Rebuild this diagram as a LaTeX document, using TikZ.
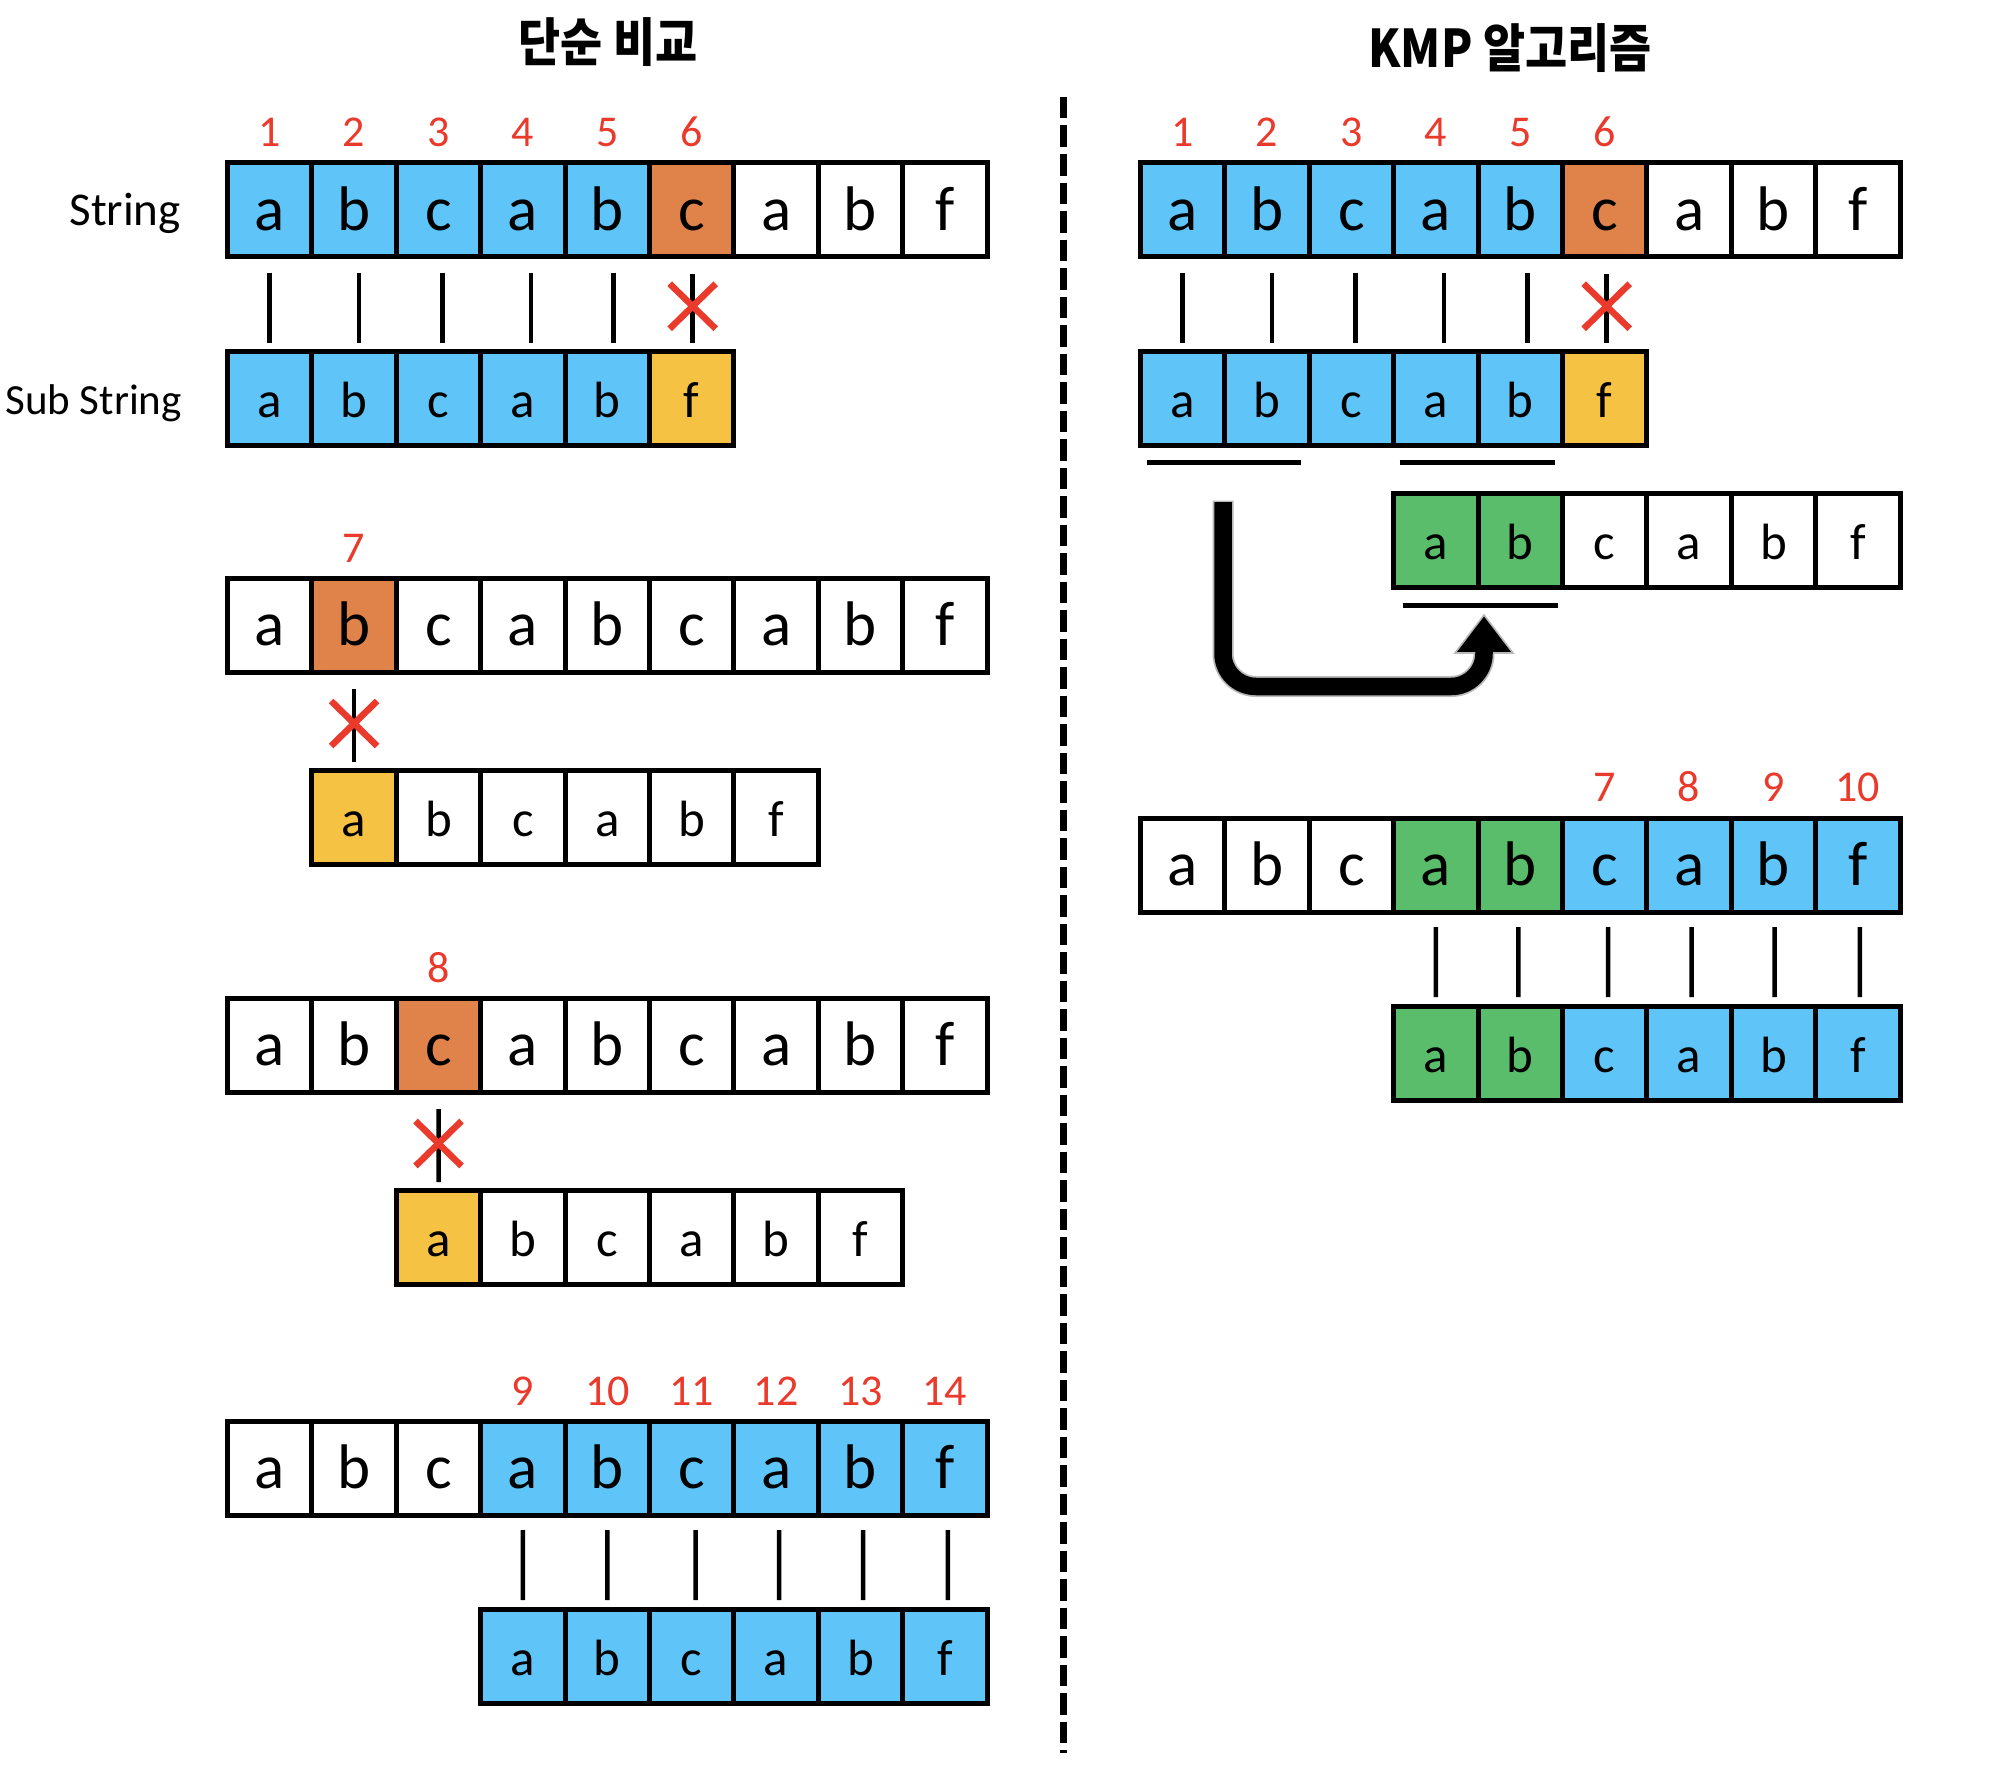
\documentclass[tikz,border=0pt]{standalone}
\usepackage{fontspec}
\setmainfont{Carlito}
\newfontfamily\krfont{Noto Sans CJK KR}
\usetikzlibrary{calc}
\definecolor{cblue}{HTML}{5FC4F8}
\definecolor{corange}{HTML}{E0834A}
\definecolor{cyellow}{HTML}{F5C243}
\definecolor{cgreen}{HTML}{5ABD6B}
\definecolor{cred}{HTML}{EA3A2B}
\tikzset{
  cellbox/.style={draw, line width=5pt, minimum width=84.4pt, minimum height=94pt,
    inner sep=0pt, outer sep=0pt, anchor=north west, text depth=0pt},
  bigcell/.style={cellbox, font=\fontsize{63}{63}\selectfont, text height=41pt},
  smallcell/.style={cellbox, font=\fontsize{51}{51}\selectfont, text height=38pt},
  numlbl/.style={anchor=base, text=cred, inner sep=0pt, font=\fontsize{44}{44}\selectfont},
  rowlbl/.style={anchor=base east, inner sep=0pt, font=\fontsize{47}{47}\selectfont},
  titlelbl/.style={inner sep=0pt, font=\krfont\bfseries\fontsize{52}{52}\selectfont},
  matchline/.style={line width=4.5pt},
  xstroke/.style={line width=6.5pt, draw=cred},
  uline/.style={line width=5pt},
}
\newcommand\cellrow[5]{%
  \foreach \ltr/\clr [count=\i from 0] in {#5} {
    \node[#4, fill=\clr] (#1-\i) at ({#2+\i*84.4},#3) {\ltr};
  }%
}
\newcommand\crossmatch[3]{%
  \draw[matchline] ($(#1.south)+(#3,17)$) coordinate (ca) -- ($(#2.north)+(#3,-8)$) coordinate (cb);
  \coordinate (cm) at ($(ca)!0.5!(cb)+(0,-2)$);
  \draw[xstroke] ($(cm)+(-23,-22.5)$) -- ($(cm)+(23,22.5)$);
  \draw[xstroke] ($(cm)+(-23,22.5)$) -- ($(cm)+(23,-22.5)$);
}
\begin{document}
\begin{tikzpicture}[x=1pt, y=-1pt]
\useasboundingbox[fill=white] (0,0) rectangle (2002,1766);

% titles
\node[titlelbl] (t1) at (608,42) {\scalebox{0.88}[1]{단순 비교}};
\node[titlelbl] (t2) at (1510,48) {\scalebox{0.88}[1]{KMP 알고리즘}};

% divider
\draw[line width=7pt, dash pattern=on 21.5pt off 7pt] (1063.5,97) -- (1063.5,1753);

% ---------------- left ----------------
\node[rowlbl] (lblS) at (181,225) {String};
\node[rowlbl, font=\fontsize{43}{43}\selectfont] (lblSS) at (182,414) {Sub String};

\cellrow{L1}{227.5}{162.5}{bigcell}{a/cblue,b/cblue,c/cblue,a/cblue,b/cblue,c/corange,a/white,b/white,f/white}
\cellrow{LS1}{227.5}{351}{smallcell}{a/cblue,b/cblue,c/cblue,a/cblue,b/cblue,f/cyellow}
\foreach \i [evaluate=\i as \n using int(\i+1)] in {0,...,5}
  \node[numlbl] (nL1-\i) at ($(L1-\i.north)+(0,-16)$) {\n};
\foreach \i/\dx in {0/0,1/5,2/4,3/8,4/6}
  \draw[matchline] ($(L1-\i.south)+(\dx,16)$) -- ($(LS1-\i.north)+(\dx,-8)$);
\crossmatch{L1-5}{LS1-5}{1}

\cellrow{L2}{227.5}{578}{bigcell}{a/white,b/corange,c/white,a/white,b/white,c/white,a/white,b/white,f/white}
\cellrow{LS2}{311.9}{770}{smallcell}{a/cyellow,b/white,c/white,a/white,b/white,f/white}
\node[numlbl] (nL2) at ($(L2-1.north)+(0,-16)$) {7};
\crossmatch{L2-1}{LS2-0}{0}

\cellrow{L3}{227.5}{998}{bigcell}{a/white,b/white,c/corange,a/white,b/white,c/white,a/white,b/white,f/white}
\cellrow{LS3}{396.3}{1190}{smallcell}{a/cyellow,b/white,c/white,a/white,b/white,f/white}
\node[numlbl] (nL3) at ($(L3-2.north)+(0,-16)$) {8};
\crossmatch{L3-2}{LS3-0}{0}

\cellrow{L4}{227.5}{1421}{bigcell}{a/white,b/white,c/white,a/cblue,b/cblue,c/cblue,a/cblue,b/cblue,f/cblue}
\cellrow{LS4}{480.7}{1609}{smallcell}{a/cblue,b/cblue,c/cblue,a/cblue,b/cblue,f/cblue}
\foreach \i/\n in {3/9,4/10,5/11,6/12,7/13,8/14}
  \node[numlbl] (nL4-\i) at ($(L4-\i.north)+(0,-16)$) {\n};
\foreach \i/\j/\dx in {3/0/0,4/1/0,5/2/4,6/3/3,7/4/2.5,8/5/3}
  \draw[matchline] ($(L4-\i.south)+(\dx,15)$) -- ($(LS4-\j.north)+(\dx,-9)$);

% ---------------- right ----------------
\cellrow{R1}{1140.5}{162.5}{bigcell}{a/cblue,b/cblue,c/cblue,a/cblue,b/cblue,c/corange,a/white,b/white,f/white}
\cellrow{RS1}{1140.5}{351}{smallcell}{a/cblue,b/cblue,c/cblue,a/cblue,b/cblue,f/cyellow}
\foreach \i [evaluate=\i as \n using int(\i+1)] in {0,...,5}
  \node[numlbl] (nR1-\i) at ($(R1-\i.north)+(0,-16)$) {\n};
\foreach \i/\dx in {0/0,1/5,2/4,3/8,4/7}
  \draw[matchline] ($(R1-\i.south)+(\dx,16)$) -- ($(RS1-\i.north)+(\dx,-8)$);
\crossmatch{R1-5}{RS1-5}{2}

\draw[uline] ($(RS1-0.south west)+(6,17.5)$) coordinate (u1a) -- ($(RS1-1.south east)+(-8,17.5)$) coordinate (u1b);
\draw[uline] ($(RS1-3.south west)+(6,17.5)$) -- ($(RS1-4.south east)+(-7.5,17.5)$);

\cellrow{RG}{1393.7}{493}{smallcell}{a/cgreen,b/cgreen,c/white,a/white,b/white,f/white}
\draw[uline] ($(RG-0.south west)+(9,18)$) coordinate (u3a) -- ($(RG-1.south east)+(-4.5,18)$) coordinate (u3b);

% jump arrow
\coordinate (arS) at (1223,502);
\coordinate (arE) at (1484,646);
\draw[line width=21pt, gray!55, rounded corners=33pt] ($(arS)+(0,-1.5)$) -- (1223,686.5) -- (1484,686.5) -- (arE);
\filldraw[fill=black, draw=gray!55, line width=1.6pt, line join=miter] (1455,653) -- (1513,653) -- (1484,615) -- cycle;
\draw[line width=17.5pt, black, rounded corners=33pt] (arS) -- (1223,686.5) -- (1484,686.5) -- (arE);

\cellrow{R5}{1140.5}{818}{bigcell}{a/white,b/white,c/white,a/cgreen,b/cgreen,c/cblue,a/cblue,b/cblue,f/cblue}
\cellrow{RS5}{1393.7}{1006}{smallcell}{a/cgreen,b/cgreen,c/cblue,a/cblue,b/cblue,f/cblue}
\foreach \i/\n in {5/7,6/8,7/9,8/10}
  \node[numlbl] (nR5-\i) at ($(R5-\i.north)+(0,-17)$) {\n};
\foreach \i/\j/\dx in {3/0/0,4/1/-2,5/2/3.5,6/3/2.5,7/4/1,8/5/2}
  \draw[matchline] ($(R5-\i.south)+(\dx,15)$) -- ($(RS5-\j.north)+(\dx,-9)$);

\end{tikzpicture}
\end{document}
